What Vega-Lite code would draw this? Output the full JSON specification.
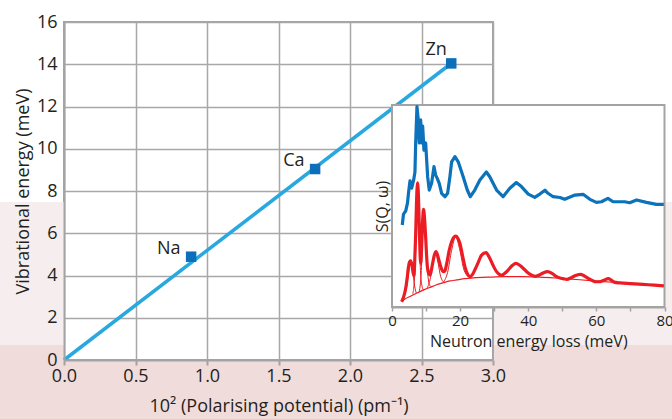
{
  "$schema": "https://vega.github.io/schema/vega-lite/v6.json",
  "width": 429,
  "height": 338,
  "autosize": {"type": "none"},
  "padding": {"left": 64, "top": 22, "right": 179, "bottom": 59},
  "background": "white",
  "config": {
    "font": "Open Sans",
    "view": {"stroke": "#a3a3a3", "strokeWidth": 2, "fill": "white"},
    "axis": {"labelFont": "Open Sans", "titleFont": "Open Sans", "labelColor": "#231f20", "titleColor": "#231f20", "titleFontWeight": "normal", "labelFlush": false, "labelOverlap": false}
  },
  "datasets": {
    "elements": [
      {"element": "Na", "potential": 0.889, "energy": 4.89},
      {"element": "Ca", "potential": 1.756, "energy": 9.04},
      {"element": "Zn", "potential": 2.708, "energy": 14.04}
    ],
    "fit": [
      {"potential": 0, "energy": 0},
      {"potential": 2.7, "energy": 14.0}
    ],
    "observed": [
      {"meV": 3.02, "intensity": 40.6}, {"meV": 3.37, "intensity": 46.0}, {"meV": 4.02, "intensity": 47.5}, {"meV": 4.55, "intensity": 51.5},
      {"meV": 4.84, "intensity": 56.4}, {"meV": 5.28, "intensity": 62.4}, {"meV": 5.78, "intensity": 58.8}, {"meV": 6.36, "intensity": 62.9},
      {"meV": 6.74, "intensity": 66.8}, {"meV": 6.95, "intensity": 81.2}, {"meV": 7.33, "intensity": 99.2}, {"meV": 7.71, "intensity": 92.6},
      {"meV": 8.01, "intensity": 81.2}, {"meV": 8.42, "intensity": 92.6}, {"meV": 8.71, "intensity": 81.2}, {"meV": 9.0, "intensity": 89.6},
      {"meV": 9.38, "intensity": 77.7}, {"meV": 9.88, "intensity": 81.2}, {"meV": 10.47, "intensity": 64.4}, {"meV": 10.94, "intensity": 57.9},
      {"meV": 11.64, "intensity": 61.4}, {"meV": 12.32, "intensity": 69.5}, {"meV": 12.82, "intensity": 65.3}, {"meV": 13.28, "intensity": 63.7},
      {"meV": 13.87, "intensity": 61.2}, {"meV": 14.57, "intensity": 56.3}, {"meV": 15.54, "intensity": 54.6}, {"meV": 16.33, "intensity": 56.3},
      {"meV": 17.0, "intensity": 64.5}, {"meV": 17.5, "intensity": 71.8}, {"meV": 18.48, "intensity": 74.4}, {"meV": 19.44, "intensity": 71.9},
      {"meV": 20.9, "intensity": 64.5}, {"meV": 22.1, "intensity": 57.9}, {"meV": 23.0, "intensity": 54.6}, {"meV": 24.3, "intensity": 57.9},
      {"meV": 25.8, "intensity": 62.9}, {"meV": 27.7, "intensity": 66.8}, {"meV": 28.7, "intensity": 64.5}, {"meV": 30.7, "intensity": 57.9},
      {"meV": 32.6, "intensity": 54.6}, {"meV": 34.6, "intensity": 58.8}, {"meV": 36.5, "intensity": 61.6}, {"meV": 38.0, "intensity": 59.6},
      {"meV": 40.0, "intensity": 55.9}, {"meV": 41.9, "intensity": 54.3}, {"meV": 43.4, "intensity": 55.9}, {"meV": 44.9, "intensity": 57.8},
      {"meV": 45.8, "intensity": 56.3}, {"meV": 47.3, "intensity": 54.6}, {"meV": 49.3, "intensity": 54.2}, {"meV": 50.7, "intensity": 53.3},
      {"meV": 53.7, "intensity": 55.4}, {"meV": 56.1, "intensity": 55.8}, {"meV": 58.1, "intensity": 53.3}, {"meV": 60.0, "intensity": 51.8},
      {"meV": 61.5, "intensity": 52.1}, {"meV": 63.4, "intensity": 53.8}, {"meV": 64.9, "intensity": 52.1}, {"meV": 68.3, "intensity": 52.1},
      {"meV": 69.8, "intensity": 51.6}, {"meV": 71.8, "intensity": 53.0}, {"meV": 74.7, "intensity": 51.8}, {"meV": 77.6, "intensity": 50.8},
      {"meV": 79.8, "intensity": 50.8}
    ],
    "calculated": [
      {"meV": 2.84, "intensity": 2.6}, {"meV": 3.5, "intensity": 5.5}, {"meV": 4.1, "intensity": 10}, {"meV": 4.5, "intensity": 15},
      {"meV": 4.8, "intensity": 19.5}, {"meV": 5.15, "intensity": 22.3}, {"meV": 5.48, "intensity": 22.9}, {"meV": 5.85, "intensity": 20.8},
      {"meV": 6.2, "intensity": 17}, {"meV": 6.45, "intensity": 15.5}, {"meV": 6.7, "intensity": 24}, {"meV": 6.95, "intensity": 36},
      {"meV": 7.2, "intensity": 52}, {"meV": 7.5, "intensity": 61.5}, {"meV": 7.8, "intensity": 53}, {"meV": 8.05, "intensity": 37},
      {"meV": 8.3, "intensity": 24}, {"meV": 8.45, "intensity": 21.6}, {"meV": 8.75, "intensity": 32}, {"meV": 9.0, "intensity": 43},
      {"meV": 9.25, "intensity": 48.4}, {"meV": 9.55, "intensity": 44}, {"meV": 9.8, "intensity": 37}, {"meV": 10.35, "intensity": 20.5},
      {"meV": 10.8, "intensity": 16.5}, {"meV": 11.2, "intensity": 15.8}, {"meV": 11.8, "intensity": 20.5}, {"meV": 12.4, "intensity": 25.5},
      {"meV": 12.9, "intensity": 27.4}, {"meV": 13.4, "intensity": 25.5}, {"meV": 13.9, "intensity": 22.4}, {"meV": 14.5, "intensity": 19},
      {"meV": 15.1, "intensity": 17.5}, {"meV": 15.5, "intensity": 17.8}, {"meV": 16.0, "intensity": 21}, {"meV": 16.8, "intensity": 28},
      {"meV": 17.5, "intensity": 32.3}, {"meV": 18.2, "intensity": 34.6}, {"meV": 18.8, "intensity": 35.1}, {"meV": 19.4, "intensity": 33.8},
      {"meV": 19.95, "intensity": 31.5}, {"meV": 20.7, "intensity": 25.5}, {"meV": 21.4, "intensity": 20}, {"meV": 22.2, "intensity": 16.2},
      {"meV": 22.9, "intensity": 15}, {"meV": 23.6, "intensity": 16}, {"meV": 24.3, "intensity": 18.3}, {"meV": 25.3, "intensity": 22},
      {"meV": 26.3, "intensity": 25.7}, {"meV": 27.6, "intensity": 26.9}, {"meV": 28.7, "intensity": 24.1}, {"meV": 29.7, "intensity": 20.5},
      {"meV": 30.7, "intensity": 17.5}, {"meV": 31.5, "intensity": 16.2}, {"meV": 32.2, "intensity": 15.8}, {"meV": 33.2, "intensity": 16.8},
      {"meV": 34.1, "intensity": 18.3}, {"meV": 35.3, "intensity": 20.5}, {"meV": 36.4, "intensity": 21.6}, {"meV": 37.4, "intensity": 20.8},
      {"meV": 38.5, "intensity": 19.2}, {"meV": 39.7, "intensity": 17.2}, {"meV": 41.0, "intensity": 15.8}, {"meV": 42.0, "intensity": 15.2},
      {"meV": 43.2, "intensity": 15.8}, {"meV": 44.5, "intensity": 17}, {"meV": 45.7, "intensity": 17.5}, {"meV": 47.0, "intensity": 16.6},
      {"meV": 48.3, "intensity": 15}, {"meV": 49.3, "intensity": 14.4}, {"meV": 50.5, "intensity": 13.9}, {"meV": 51.3, "intensity": 13.7},
      {"meV": 52.5, "intensity": 14.4}, {"meV": 53.7, "intensity": 15.5}, {"meV": 55.3, "intensity": 16.2}, {"meV": 56.5, "intensity": 15.3},
      {"meV": 57.6, "intensity": 14.2}, {"meV": 58.8, "intensity": 13.1}, {"meV": 60.0, "intensity": 12.5}, {"meV": 61.2, "intensity": 12.6},
      {"meV": 62.2, "intensity": 13.2}, {"meV": 63.5, "intensity": 14}, {"meV": 64.4, "intensity": 13.3}, {"meV": 65.2, "intensity": 12.3},
      {"meV": 67.0, "intensity": 11.9}, {"meV": 70.0, "intensity": 11.6}, {"meV": 73.7, "intensity": 11.2}, {"meV": 77.0, "intensity": 10.8},
      {"meV": 79.8, "intensity": 10.5}
    ],
    "background": [
      {"meV": 2.84, "intensity": 2.6}, {"meV": 3.81, "intensity": 4.0}, {"meV": 5.28, "intensity": 5.2}, {"meV": 6.74, "intensity": 6.4},
      {"meV": 8.21, "intensity": 7.6}, {"meV": 9.68, "intensity": 8.7}, {"meV": 11.14, "intensity": 9.7}, {"meV": 12.9, "intensity": 10.9},
      {"meV": 15.04, "intensity": 12.0}, {"meV": 17.01, "intensity": 12.9}, {"meV": 18.97, "intensity": 13.4}, {"meV": 21.41, "intensity": 14.0},
      {"meV": 23.84, "intensity": 14.4}, {"meV": 28.74, "intensity": 14.8}, {"meV": 33.14, "intensity": 15.0}, {"meV": 38.42, "intensity": 15.0},
      {"meV": 43.4, "intensity": 14.8}, {"meV": 49.27, "intensity": 14.2}, {"meV": 55.13, "intensity": 13.5}, {"meV": 61.0, "intensity": 12.7},
      {"meV": 66.86, "intensity": 12.0}, {"meV": 72.73, "intensity": 11.4}, {"meV": 79.77, "intensity": 10.5}
    ],
    "components": [
      {"peak": "p1", "meV": 3.0, "intensity": 3.4}, {"peak": "p1", "meV": 4.2, "intensity": 9}, {"peak": "p1", "meV": 4.9, "intensity": 17},
      {"peak": "p1", "meV": 5.5, "intensity": 22.5}, {"peak": "p1", "meV": 6.0, "intensity": 20}, {"peak": "p1", "meV": 6.5, "intensity": 12},
      {"peak": "p1", "meV": 7.1, "intensity": 7},
      {"peak": "p2", "meV": 6.1, "intensity": 6.3}, {"peak": "p2", "meV": 6.8, "intensity": 20}, {"peak": "p2", "meV": 7.2, "intensity": 48},
      {"peak": "p2", "meV": 7.5, "intensity": 61}, {"peak": "p2", "meV": 7.9, "intensity": 40}, {"peak": "p2", "meV": 8.5, "intensity": 14},
      {"peak": "p2", "meV": 9.2, "intensity": 8.3},
      {"peak": "p3", "meV": 8.0, "intensity": 7.7}, {"peak": "p3", "meV": 8.6, "intensity": 18}, {"peak": "p3", "meV": 9.0, "intensity": 38},
      {"peak": "p3", "meV": 9.3, "intensity": 48.4}, {"peak": "p3", "meV": 9.7, "intensity": 37}, {"peak": "p3", "meV": 10.3, "intensity": 20},
      {"peak": "p3", "meV": 11.0, "intensity": 11}, {"peak": "p3", "meV": 11.6, "intensity": 10},
      {"peak": "p4", "meV": 10.3, "intensity": 9.3}, {"peak": "p4", "meV": 11.3, "intensity": 14.5}, {"peak": "p4", "meV": 12.0, "intensity": 22},
      {"peak": "p4", "meV": 12.8, "intensity": 27}, {"peak": "p4", "meV": 13.5, "intensity": 22}, {"peak": "p4", "meV": 14.3, "intensity": 15},
      {"peak": "p4", "meV": 15.4, "intensity": 12},
      {"peak": "p5", "meV": 14.8, "intensity": 11.8}, {"peak": "p5", "meV": 16.3, "intensity": 17}, {"peak": "p5", "meV": 17.5, "intensity": 28},
      {"peak": "p5", "meV": 18.7, "intensity": 34.8}, {"peak": "p5", "meV": 19.8, "intensity": 29}, {"peak": "p5", "meV": 21.2, "intensity": 18},
      {"peak": "p5", "meV": 23.0, "intensity": 14.3}
    ]
  },
  "layer": [
    {
      "data": {"values": [{}]},
      "layer": [
        {
          "mark": {"type": "rect", "color": "#f6eeee", "clip": false},
          "encoding": {
            "x": {"datum": -0.5, "type": "quantitative", "scale": {"domain": [0, 3], "nice": false},
              "axis": {"orient": "bottom", "values": [0, 0.5, 1, 1.5, 2, 2.5, 3], "grid": true, "gridColor": "#a8a8a8", "gridWidth": 1.5, "labels": false, "ticks": false, "domain": false, "title": null, "zindex": 0}},
            "x2": {"datum": 0},
            "y": {"datum": 0.71, "type": "quantitative", "scale": {"domain": [0, 16], "nice": false},
              "axis": {"orient": "left", "values": [0, 2, 4, 6, 8, 10, 12, 14, 16], "grid": true, "gridColor": "#a8a8a8", "gridWidth": 1.5, "labels": false, "ticks": false, "domain": false, "title": null, "zindex": 0}},
            "y2": {"datum": 7.48}
          }
        },
        {
          "mark": {"type": "rect", "color": "#f6eeee", "clip": false},
          "encoding": {"x": {"datum": 3.008, "type": "quantitative"}, "x2": {"datum": 4.4}, "y": {"datum": 0.71, "type": "quantitative"}, "y2": {"datum": 7.48}}
        },
        {
          "mark": {"type": "rect", "color": "#f1dcdc", "clip": false},
          "encoding": {"x": {"datum": -0.5, "type": "quantitative"}, "x2": {"datum": 0}, "y": {"datum": -3.2, "type": "quantitative"}, "y2": {"datum": 0.71}}
        },
        {
          "mark": {"type": "rect", "color": "#f1dcdc", "clip": false},
          "encoding": {"x": {"datum": 3.008, "type": "quantitative"}, "x2": {"datum": 4.4}, "y": {"datum": -3.2, "type": "quantitative"}, "y2": {"datum": 0.71}}
        },
        {
          "mark": {"type": "rect", "color": "#f1dcdc", "clip": false},
          "encoding": {"x": {"datum": -0.5, "type": "quantitative"}, "x2": {"datum": 4.4}, "y": {"datum": -3.2, "type": "quantitative"}, "y2": {"datum": 0}}
        }
      ]
    },
    {
      "layer": [
        {
          "data": {"name": "fit"},
          "mark": {"type": "line", "color": "#29a8e0", "strokeWidth": 3.5, "strokeCap": "butt"},
          "encoding": {
            "x": {"field": "potential", "type": "quantitative", "scale": {"domain": [0, 3], "nice": false},
              "axis": {"orient": "bottom", "values": [0, 0.25, 0.5, 0.75, 1, 1.25, 1.5, 1.75, 2, 2.25, 2.5, 2.75, 3],
                "labelExpr": "datum.value % 0.5 === 0 ? format(datum.value, '.1f') : ''",
                "grid": false, "domainColor": "#a3a3a3", "domainWidth": 2, "tickColor": "#a3a3a3", "tickWidth": 2, "tickSize": 5,
                "labelFontSize": 18, "labelPadding": 2, "title": "10² (Polarising potential) (pm⁻¹)", "titleFontSize": 18, "titlePadding": 12, "zindex": 1}},
            "y": {"field": "energy", "type": "quantitative", "scale": {"domain": [0, 16], "nice": false},
              "axis": {"orient": "left", "values": [0, 2, 4, 6, 8, 10, 12, 14, 16], "grid": false, "ticks": false,
                "domainColor": "#a3a3a3", "domainWidth": 2, "labelFontSize": 18, "labelPadding": 7,
                "title": "Vibrational energy (meV)", "titleFontSize": 18, "titlePadding": 4, "zindex": 1}}
          }
        },
        {
          "data": {"name": "elements"},
          "mark": {"type": "square", "color": "#0b6fba", "size": 110, "opacity": 1},
          "encoding": {"x": {"field": "potential", "type": "quantitative"}, "y": {"field": "energy", "type": "quantitative"}}
        },
        {
          "data": {"name": "elements"},
          "transform": [{"filter": "datum.element !== 'Zn'"}],
          "mark": {"type": "text", "align": "right", "baseline": "alphabetic", "dx": -10.5, "dy": -3, "fontSize": 18, "color": "#231f20", "font": "Open Sans"},
          "encoding": {"x": {"field": "potential", "type": "quantitative"}, "y": {"field": "energy", "type": "quantitative"}, "text": {"field": "element"}}
        },
        {
          "data": {"name": "elements"},
          "transform": [{"filter": "datum.element === 'Zn'"}],
          "mark": {"type": "text", "align": "right", "baseline": "alphabetic", "dx": -4.5, "dy": -8.5, "fontSize": 18, "color": "#231f20", "font": "Open Sans"},
          "encoding": {"x": {"field": "potential", "type": "quantitative"}, "y": {"field": "energy", "type": "quantitative"}, "text": {"field": "element"}}
        }
      ]
    },
    {
      "layer": [
        {
          "data": {"values": [{}]},
          "mark": {"type": "rect", "fill": "white", "stroke": "#a3a3a3", "strokeWidth": 2},
          "encoding": {
            "x": {"datum": 0, "type": "quantitative", "scale": {"domain": [0, 80], "range": [328, 600.5], "nice": false},
              "axis": {"orient": "bottom", "offset": -53, "values": [0, 10, 20, 30, 40, 50, 60, 70, 80],
                "labelExpr": "datum.value % 20 === 0 ? datum.label : ''",
                "grid": false, "domainColor": "#a3a3a3", "domainWidth": 2, "tickColor": "#a3a3a3", "tickWidth": 1.5, "tickSize": 4,
                "labelFontSize": 15, "labelPadding": 2, "title": "Neutron energy loss (meV)", "titleFontSize": 16, "titlePadding": 5, "zindex": 1}},
            "x2": {"datum": 80},
            "y": {"datum": 0, "type": "quantitative", "scale": {"domain": [0, 100], "range": [285, 83], "nice": false},
              "axis": {"orient": "left", "offset": -328, "grid": false, "ticks": false, "labels": false, "domain": false,
                "title": "S(Q, ω)", "titleFontSize": 16, "titlePadding": 2, "zindex": 1}},
            "y2": {"datum": 100}
          }
        },
        {
          "data": {"name": "components"},
          "mark": {"type": "line", "color": "#ec1c24", "strokeWidth": 1, "interpolate": "monotone"},
          "encoding": {"x": {"field": "meV", "type": "quantitative"}, "y": {"field": "intensity", "type": "quantitative"}, "detail": {"field": "peak"}}
        },
        {
          "data": {"name": "background"},
          "mark": {"type": "line", "color": "#ec1c24", "strokeWidth": 1.2, "interpolate": "monotone"},
          "encoding": {"x": {"field": "meV", "type": "quantitative"}, "y": {"field": "intensity", "type": "quantitative"}}
        },
        {
          "data": {"name": "calculated"},
          "mark": {"type": "line", "color": "#ec1c24", "strokeWidth": 3.2, "interpolate": "monotone", "strokeJoin": "round"},
          "encoding": {"x": {"field": "meV", "type": "quantitative"}, "y": {"field": "intensity", "type": "quantitative"}}
        },
        {
          "data": {"name": "observed"},
          "mark": {"type": "line", "color": "#0b72bb", "strokeWidth": 3.2, "strokeJoin": "round"},
          "encoding": {"x": {"field": "meV", "type": "quantitative"}, "y": {"field": "intensity", "type": "quantitative"}}
        }
      ]
    }
  ],
  "resolve": {"scale": {"x": "independent", "y": "independent"}, "axis": {"x": "independent", "y": "independent"}}
}
